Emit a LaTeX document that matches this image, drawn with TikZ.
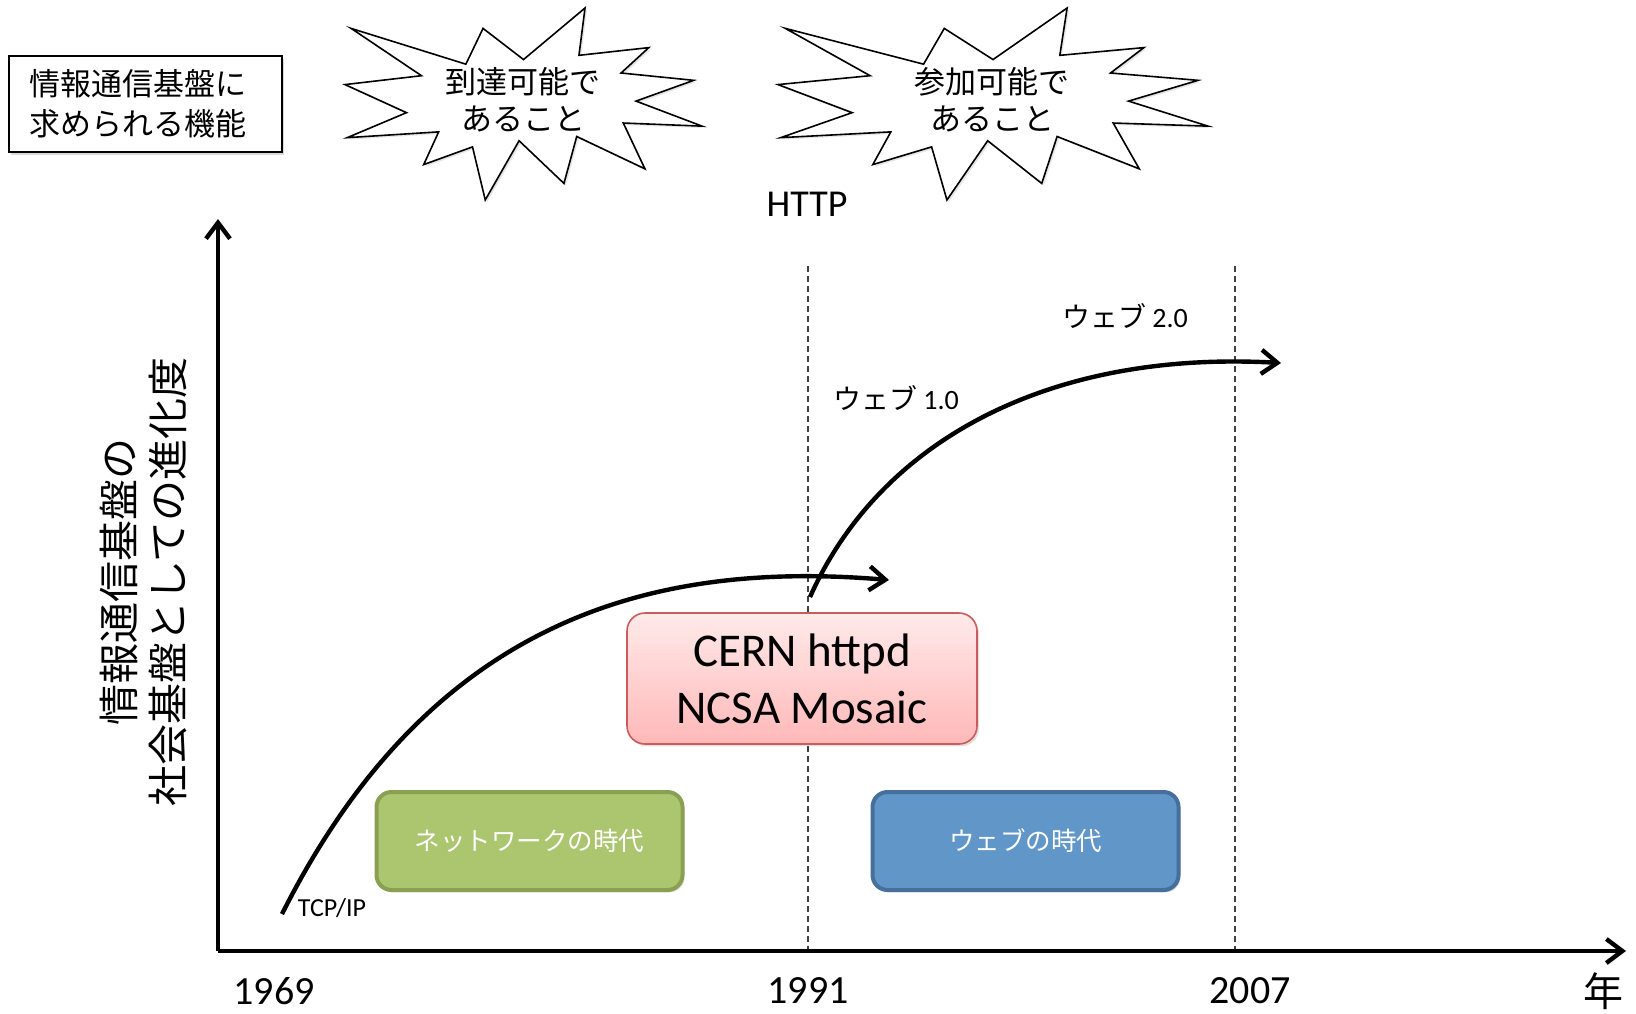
\documentclass[tikz,border=0pt]{standalone}
\usepackage{fontspec}
\setmainfont{Carlito}
\newfontfamily\jp{Noto Sans CJK JP}
\usetikzlibrary{arrows.meta,shadows}
\definecolor{grfill}{RGB}{172,197,111}
\definecolor{grline}{RGB}{137,160,82}
\definecolor{blfill}{RGB}{97,150,201}
\definecolor{blline}{RGB}{70,111,155}
\definecolor{pktop}{RGB}{255,234,234}
\definecolor{pkbot}{RGB}{255,184,184}
\definecolor{pkline}{RGB}{204,92,92}
\tikzset{
  axisline/.style={line width=2.2pt,-{Straight Barb[length=8pt,width=12pt]}},
  curveline/.style={line width=2.2pt,-{Straight Barb[length=8pt,width=12pt]}},
  guide/.style={line width=0.6pt,black!75,dash pattern=on 3pt off 2pt},
  burstline/.style={draw=black,fill=white,line width=0.8pt,line join=miter,
    drop shadow={opacity=0.2,shadow xshift=1pt,shadow yshift=-1pt}},
  jpbig/.style={font=\jp\fontsize{15.5}{20}\selectfont},
  erabox/.style={rounded corners=7.5pt,line width=2pt,minimum width=153pt,minimum height=49pt,
    text=white,font=\jp\fontsize{12.75}{15}\selectfont,
    drop shadow={opacity=0.25,shadow xshift=1pt,shadow yshift=-1.2pt}},
  yearlbl/.style={font=\fontsize{20}{24}\selectfont},
}
\begin{document}
\begin{tikzpicture}[x=0.5pt,y=-0.5pt]
\useasboundingbox (0,0) rectangle (1636,1013);

% top-left box
\node[draw=black,line width=0.7pt,fill=white,minimum width=136.5pt,minimum height=48pt,
  text width=116.5pt,inner xsep=10pt,align=left,jpbig,
  drop shadow={opacity=0.3,shadow xshift=1.2pt,shadow yshift=-1.5pt}]
  (func) at (145.5,104) {情報通信基盤に\\求められる機能};

% starbursts
\begin{scope}[shift={(345,8)},x=0.8264pt,y=-0.4444pt]
\path[burstline] (108,58) -- (145.22,0) -- (141.55,53.25) -- (183.80,44.57) -- (167.02,73.15)
 -- (210.97,81.37) -- (176.07,104.75) -- (216,132.90) -- (168.37,129.42) -- (181.45,180.95)
 -- (140.20,144.57) -- (132.47,197.37) -- (105.32,149.35) -- (84.85,216) -- (77.15,156.27)
 -- (47.62,176.17) -- (56.67,139.37) -- (1.35,145.87) -- (37.22,117.75) -- (0,86.15)
 -- (46.27,76.17) -- (3.70,22.95) -- (73.12,63.20) -- (83.52,22.95) -- cycle;
\end{scope}
\begin{scope}[shift={(778,8)},x=0.9954pt,y=-0.4444pt]
\path[burstline] (108,58) -- (145.22,0) -- (141.55,53.25) -- (183.80,44.57) -- (167.02,73.15)
 -- (210.97,81.37) -- (176.07,104.75) -- (216,132.90) -- (168.37,129.42) -- (181.45,180.95)
 -- (140.20,144.57) -- (132.47,197.37) -- (105.32,149.35) -- (84.85,216) -- (77.15,156.27)
 -- (47.62,176.17) -- (56.67,139.37) -- (1.35,145.87) -- (37.22,117.75) -- (0,86.15)
 -- (46.27,76.17) -- (3.70,22.95) -- (73.12,63.20) -- (83.52,22.95) -- cycle;
\end{scope}
\node[align=center,font=\jp\fontsize{15.5}{18.5}\selectfont] (reach) at (523,100) {到達可能で\\あること};
\node[align=center,font=\jp\fontsize{15.5}{18.5}\selectfont] (part) at (992,100) {参加可能で\\あること};

\node[font=\fontsize{19}{22}\selectfont] (http) at (807,204) {HTTP};

% guides
\coordinate (g1t) at (808,266);
\coordinate (g1b) at (808,951);
\coordinate (g2t) at (1235,266);
\coordinate (g2b) at (1235,951);
\draw[guide] (g1t) -- (g1b);
\draw[guide] (g2t) -- (g2b);

% axes
\coordinate (o) at (218,951);
\coordinate (ytip) at (218,219);
\coordinate (xtip) at (1626,951);
\draw[axisline] (o) -- (ytip);
\draw[axisline] (o) -- (xtip);

% y label
\node[rotate=90,align=center,font=\jp\fontsize{20.5}{24.5}\selectfont] (ylab) at (143,582)
  {情報通信基盤の\\社会基盤としての進化度};

% years
\node[yearlbl] (y1969) at (274,991) {1969};
\node[yearlbl] (y1991) at (808,991) {1991};
\node[yearlbl] (y2007) at (1250,991) {2007};
\node[font=\jp\fontsize{20}{24}\selectfont] (nen) at (1603,991) {年};

% era boxes
\node[erabox,draw=grline,fill=grfill] (net) at (529.5,841) {ネットワークの時代};
\node[erabox,draw=blline,fill=blfill] (web) at (1025.5,841) {ウェブの時代};

% CERN box
\node[rounded corners=9pt,draw=pkline,line width=0.8pt,top color=pktop,bottom color=pkbot,
  minimum width=175pt,minimum height=65.5pt,align=center,font=\fontsize{23.5}{28.5}\selectfont,
  drop shadow={opacity=0.25,shadow xshift=1pt,shadow yshift=-1.2pt}]
  (cern) at (802,678.5) {CERN httpd\\NCSA Mosaic};

% curves
\coordinate (c1s) at (282,914);
\coordinate (c1e) at (889,580);
\coordinate (c2s) at (810,597);
\coordinate (c2e) at (1281,363);
\draw[curveline] (c1s) .. controls (430,620) and (650,560) .. (c1e);
\draw[curveline] (c2s) .. controls (880,440) and (1050,350) .. (c2e);

% labels
\node[font=\fontsize{13}{15}\selectfont] (tcp) at (332,908) {TCP/IP};
\node[font=\fontsize{14}{16}\selectfont] (w1) at (896,398) {{\jp ウェブ} 1.0};
\node[font=\fontsize{14}{16}\selectfont] (w2) at (1125,316) {{\jp ウェブ} 2.0};
\end{tikzpicture}
\end{document}
